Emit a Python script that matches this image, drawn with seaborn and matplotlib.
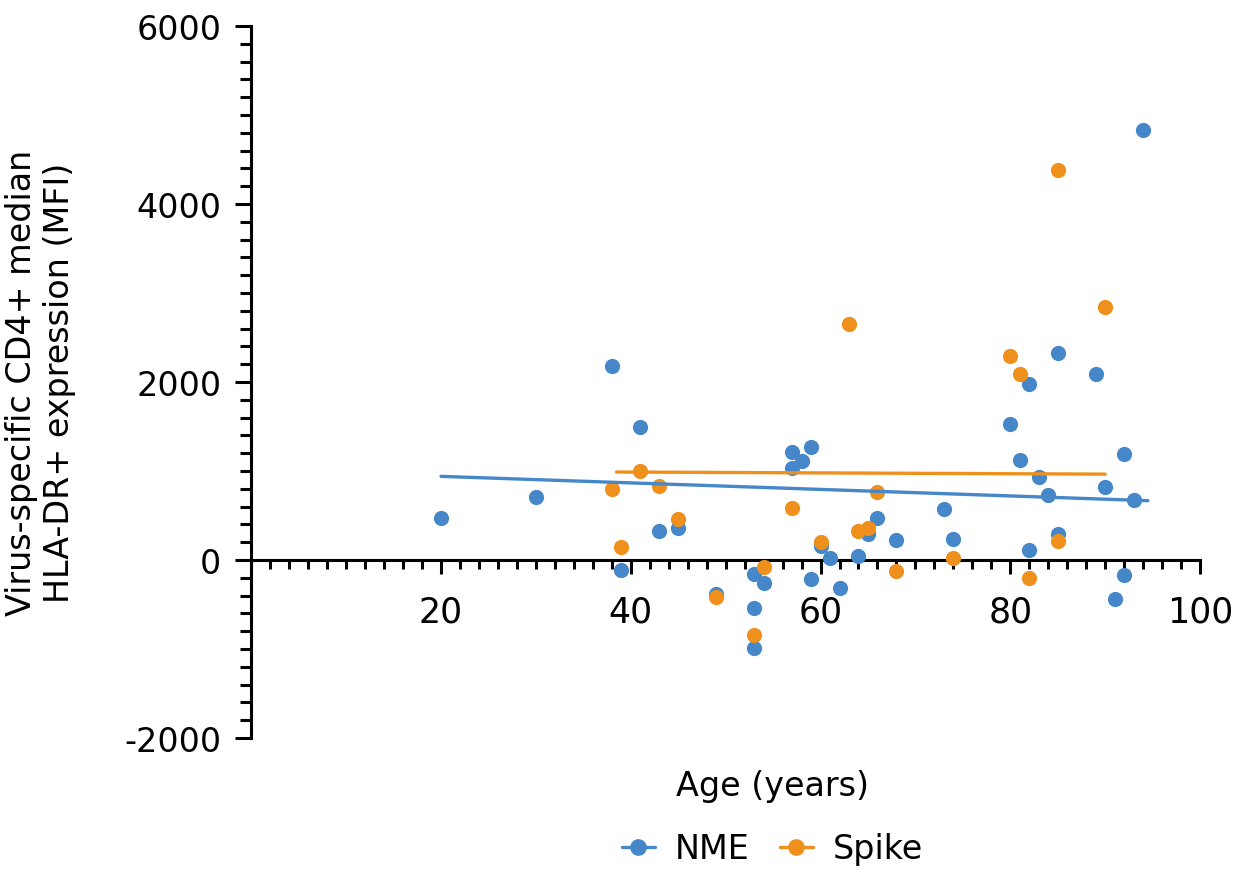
import matplotlib
matplotlib.use("Agg")
import matplotlib.pyplot as plt
from matplotlib.lines import Line2D
from matplotlib.ticker import MultipleLocator
import seaborn as sns

# NME (blue) - age vs median HLA-DR+ MFI
nme_age = [20, 30, 38, 39, 41, 43, 45, 49, 53, 53, 53, 54, 57, 57, 58, 59, 59,
           60, 61, 62, 64, 65, 66, 68, 73, 74, 80, 81, 82, 82, 83, 84, 85, 85,
           89, 90, 91, 92, 92, 93, 94]
nme_mfi = [470, 708, 2184, -109, 1498, 322, 360, -382, -157, -536, -985, -259,
           1218, 1030, 1109, 1267, -213, 161, 26, -318, 49, 292, 472, 229, 573,
           236, 1529, 1124, 1978, 116, 933, 731, 2323, 292, 2091, 817, -438,
           1191, -165, 674, 4833]

# Spike (orange)
spike_age = [38, 39, 41, 43, 45, 49, 53, 54, 57, 60, 63, 64, 65, 66, 68, 74,
             80, 81, 82, 85, 85, 90]
spike_mfi = [798, 146, 997, 832, 461, -412, -839, -82, 584, 199, 2653, 330,
             356, 761, -120, 19, 2297, 2091, -199, 210, 4384, 2840]

# trend lines as shown in the figure (ends)
nme_trend_age = [20, 94.5]
nme_trend_mfi = [940, 667]
spike_trend_age = [38.5, 90]
spike_trend_mfi = [989, 965]

x_ticks = [20, 40, 60, 80, 100]
y_ticks = [-2000, 0, 2000, 4000, 6000]

blue = "#4587c8"
orange = "#f0901c"

sns.set_style("white")
plt.rcParams["font.family"] = ["DejaVu Sans"]
plt.rcParams["axes.unicode_minus"] = False
plt.rcParams["text.color"] = "black"
plt.rcParams["axes.labelcolor"] = "black"
plt.rcParams["xtick.color"] = "black"
plt.rcParams["ytick.color"] = "black"

fig = plt.figure(figsize=(12.48, 8.78), dpi=100)
ax = fig.add_axes([0.2013, 0.1583, 0.7603, 0.8109])

for age, mfi, t_age, t_mfi, col in [
        (nme_age, nme_mfi, nme_trend_age, nme_trend_mfi, blue),
        (spike_age, spike_mfi, spike_trend_age, spike_trend_mfi, orange)]:
    sns.scatterplot(x=age, y=mfi, ax=ax, color=col, s=120, linewidth=0, zorder=3)
    sns.lineplot(x=t_age, y=t_mfi, ax=ax, color=col, linewidth=2.4, zorder=4)

ax.set_xlim(0, 100)
ax.set_ylim(-2000, 6000)
ax.set_xticks(x_ticks)
ax.set_yticks(y_ticks)
ax.xaxis.set_minor_locator(MultipleLocator(2))
ax.yaxis.set_minor_locator(MultipleLocator(200))

for s in ["top", "right"]:
    ax.spines[s].set_visible(False)
ax.spines["bottom"].set_position(("data", 0))
for s in ["left", "bottom"]:
    ax.spines[s].set_linewidth(2.2)
    ax.spines[s].set_color("black")

ax.tick_params(axis="both", which="both", direction="out", color="black", width=2.2)
ax.tick_params(axis="x", which="major", length=10, labelsize=25, pad=15, bottom=True)
ax.tick_params(axis="x", which="minor", length=6.5, bottom=True)
ax.tick_params(axis="y", which="major", length=11.5, labelsize=24, pad=10, left=True)
ax.tick_params(axis="y", which="minor", length=8, left=True)

ax.set_xlabel("Age (years)", fontsize=24)
ax.xaxis.set_label_coords(0.549, -0.067)
ax.xaxis.label.set_va("center")
ax.set_ylabel("Virus-specific CD4+ median\nHLA-DR+ expression (MFI)", fontsize=24,
              linespacing=1.2)
ax.yaxis.set_label_coords(-0.222, 0.5)
ax.yaxis.label.set_va("center")

handles = [Line2D([], [], color=blue, marker="o", markersize=11, linewidth=2.4),
           Line2D([], [], color=orange, marker="o", markersize=11, linewidth=2.4)]
fig.legend(handles, ["NME", "Spike"], loc="center", bbox_to_anchor=(0.619, 0.032),
           ncol=2, frameon=False, fontsize=24, handlelength=1.0,
           handletextpad=0.6, columnspacing=0.9)

fig.savefig("out.png", dpi=100)
